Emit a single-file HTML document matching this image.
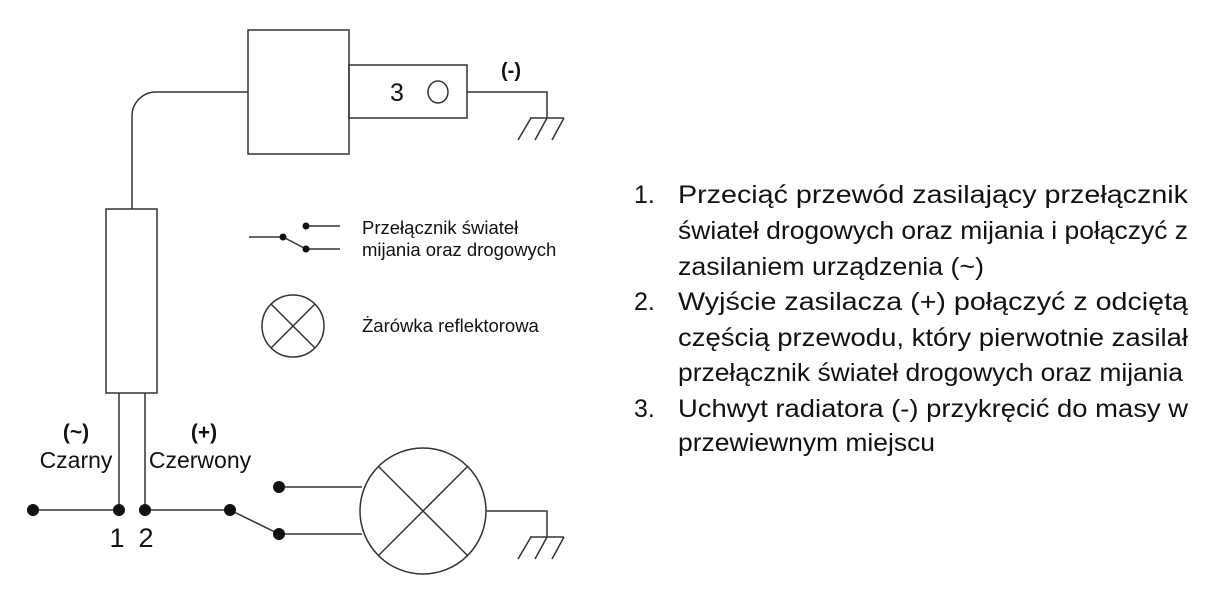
<!DOCTYPE html>
<html><head><meta charset="utf-8"><style>
html,body{margin:0;padding:0;background:#fff;}
svg{display:block;}
text{font-family:"Liberation Sans",Arial,sans-serif;fill:#111;}
</style></head><body>
<svg width="1217" height="598" viewBox="0 0 1217 598" xmlns="http://www.w3.org/2000/svg">
<g fill="none" stroke="#333" stroke-width="1.5">
<rect x="248" y="30" width="101" height="124"/>
<rect x="349" y="65" width="118" height="53"/>
<ellipse cx="438" cy="92" rx="10" ry="11"/>
<polyline points="467,92 547,92 547,118"/>
<line x1="530" y1="118" x2="564" y2="118"/>
<line x1="531" y1="118" x2="518" y2="140"/>
<line x1="547" y1="118" x2="535" y2="140"/>
<line x1="564" y1="118" x2="552" y2="140"/>
<path d="M248,92 H156 A24,24 0 0 0 132,116 V209"/>
<rect x="106" y="209" width="51" height="184"/>
<line x1="249" y1="237" x2="283" y2="237"/>
<line x1="283" y1="237" x2="306" y2="249"/>
<line x1="306" y1="249" x2="340" y2="249"/>
<line x1="306" y1="226" x2="340" y2="226"/>
<circle cx="293" cy="326" r="31"/>
<line x1="271" y1="304" x2="315" y2="348"/>
<line x1="315" y1="304" x2="271" y2="348"/>
<line x1="119" y1="393" x2="119" y2="510"/>
<line x1="145" y1="393" x2="145" y2="510"/>
<line x1="33" y1="510" x2="119" y2="510"/>
<line x1="145" y1="510" x2="230" y2="510"/>
<line x1="230" y1="510" x2="279" y2="534"/>
<line x1="279" y1="487" x2="362" y2="487"/>
<line x1="279" y1="534" x2="362" y2="534"/>
<circle cx="423" cy="511" r="63"/>
<line x1="378" y1="466" x2="468" y2="556"/>
<line x1="468" y1="466" x2="378" y2="556"/>
<polyline points="486,511 547,511 547,537"/>
<line x1="530" y1="537" x2="564" y2="537"/>
<line x1="531" y1="537" x2="518" y2="559"/>
<line x1="547" y1="537" x2="535" y2="559"/>
<line x1="564" y1="537" x2="552" y2="559"/>
</g>
<g fill="#111">
<circle cx="283" cy="237" r="3.5"/><circle cx="306" cy="249" r="3.5"/><circle cx="306" cy="226" r="3.5"/>
<circle cx="33" cy="510" r="6"/><circle cx="119" cy="510" r="6"/><circle cx="145" cy="510" r="6"/><circle cx="230" cy="510" r="6"/>
<circle cx="279" cy="487" r="6"/><circle cx="279" cy="534" r="6"/>
</g>
<text x="390" y="101" font-size="25">3</text>
<text x="501" y="77" font-size="20" font-weight="bold">(-)</text>
<text x="362" y="234" font-size="18.5">Przełącznik świateł</text>
<text x="362" y="256" font-size="18.5">mijania oraz drogowych</text>
<text x="362" y="332" font-size="18.5">Żarówka reflektorowa</text>
<text x="76" y="439" font-size="21" font-weight="bold" text-anchor="middle">(~)</text>
<text x="76" y="468" font-size="23" text-anchor="middle">Czarny</text>
<text x="204" y="439" font-size="21" font-weight="bold" text-anchor="middle">(+)</text>
<text x="200" y="468" font-size="23" text-anchor="middle">Czerwony</text>
<text x="117" y="547" font-size="27" text-anchor="middle">1</text>
<text x="146" y="547" font-size="27" text-anchor="middle">2</text>
<g font-size="25">
<text x="634" y="203">1.</text>
<text x="678" y="203" textLength="510" lengthAdjust="spacingAndGlyphs">Przeciąć  przewód  zasilający  przełącznik</text>
<text x="678" y="239" textLength="510" lengthAdjust="spacingAndGlyphs">świateł drogowych oraz mijania i połączyć z</text>
<text x="678" y="275" textLength="306" lengthAdjust="spacingAndGlyphs">zasilaniem urządzenia (~)</text>
<text x="634" y="310">2.</text>
<text x="678" y="310" textLength="510" lengthAdjust="spacingAndGlyphs">Wyjście  zasilacza  (+)  połączyć  z  odciętą</text>
<text x="678" y="346" textLength="510" lengthAdjust="spacingAndGlyphs">częścią  przewodu,  który  pierwotnie  zasilał</text>
<text x="678" y="381" textLength="505" lengthAdjust="spacingAndGlyphs">przełącznik świateł drogowych oraz mijania</text>
<text x="634" y="417">3.</text>
<text x="678" y="417" textLength="510" lengthAdjust="spacingAndGlyphs">Uchwyt radiatora (-) przykręcić do masy w</text>
<text x="678" y="451" textLength="257" lengthAdjust="spacingAndGlyphs">przewiewnym miejscu</text>
</g>
</svg>
</body></html>
